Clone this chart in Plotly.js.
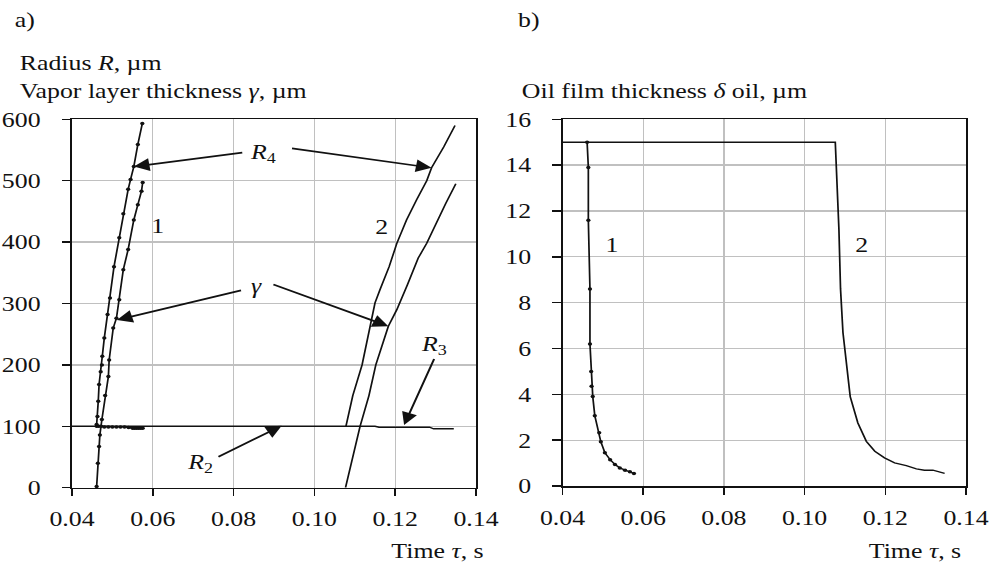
<!DOCTYPE html>
<html>
<head>
<meta charset="utf-8">
<script src="https://cdn.plot.ly/plotly-3.0.1.min.js"></script>
<style>
  html, body { margin: 0; padding: 0; background: #fff; overflow: hidden; }
  #frame { width: 998px; height: 564px; overflow: hidden; }
  /* the figure is set in a wide serif face: draw narrower, then widen */
  #chart { width: 811px; height: 564px; transform-origin: 0 0; transform: scaleX(1.2306); }
</style>
</head>
<body>
<div id="frame"><div id="chart"></div></div>
<script>
// ---- a) drop radius and vapor layer thickness, µm ----
// run 1 (dotted): outer radius R4
const t1R4 = [0.0461, 0.0463, 0.0465, 0.0467, 0.0471, 0.0474, 0.0475, 0.0480, 0.0488, 0.0494, 0.0504, 0.0517, 0.0527, 0.0539, 0.0545, 0.0553, 0.0563, 0.0574];
const r1R4 = [103, 116, 141, 168, 189, 200, 214, 244, 282, 309, 360, 407, 446, 486, 502, 523, 559, 593];
// run 1 (dotted): drop radius R2
const t1R2 = [0.0461, 0.0466, 0.0472, 0.0480, 0.0490, 0.0500, 0.0510, 0.0520, 0.0530, 0.0540, 0.0550, 0.0555, 0.0560, 0.0565, 0.0570, 0.0575];
const r1R2 = [100, 100, 100, 99, 99, 99, 99, 99, 99, 98, 97, 97, 97, 97, 97, 97];
// run 1 (dotted): vapor layer thickness γ
const t1G = [0.0461, 0.0464, 0.0467, 0.0469, 0.0474, 0.0482, 0.0490, 0.0492, 0.0502, 0.0510, 0.0517, 0.0527, 0.0539, 0.0553, 0.0563, 0.0572, 0.0575];
const g1 = [2, 40, 67, 86, 111, 150, 181, 208, 260, 276, 306, 355, 388, 436, 461, 483, 497];

// run 2: drop radius R2 / R3
const t2R = [0.04, 0.1078, 0.1150, 0.1160, 0.1285, 0.1295, 0.1345];
const r2R = [100, 100, 100, 98.5, 98.5, 96, 96];
// run 2: outer radius R4
const t2R4 = [0.1078, 0.1095, 0.1118, 0.1133, 0.1150, 0.1162, 0.1185, 0.1204, 0.1228, 0.1253, 0.1278, 0.1290, 0.1320, 0.1348];
const r2R4 = [100, 150, 200, 246, 301, 322, 360, 398, 436, 469, 500, 521, 555, 590];
// run 2: vapor layer thickness γ
const t2G = [0.1077, 0.1095, 0.1113, 0.1135, 0.1152, 0.1183, 0.1204, 0.1230, 0.1257, 0.1278, 0.1300, 0.1325, 0.1350];
const g2 = [0, 50, 100, 150, 200, 263, 290, 330, 374, 398, 430, 463, 495];

// ---- b) oil film thickness δ oil, µm ----
const t1D = [0.0461, 0.0464, 0.0464, 0.0468, 0.0468, 0.0471, 0.0472, 0.0475, 0.0480, 0.0491, 0.0495, 0.0505, 0.0518, 0.0530, 0.0542, 0.0555, 0.0567, 0.0577];
const d1 = [15.0, 13.9, 11.6, 8.6, 6.2, 5.0, 4.35, 3.9, 3.07, 2.32, 1.93, 1.45, 1.15, 0.94, 0.79, 0.69, 0.62, 0.55];
const t2D = [0.04, 0.1076, 0.1085, 0.1089, 0.1095, 0.1113, 0.1132, 0.1153, 0.1174, 0.1198, 0.1223, 0.1252, 0.1277, 0.1297, 0.1318, 0.1347];
const d2 = [15, 15, 11.2, 8.6, 6.7, 3.9, 2.75, 1.95, 1.52, 1.23, 1.01, 0.89, 0.75, 0.69, 0.69, 0.55];

// axis ticks
const timeTicks = [0.04, 0.06, 0.08, 0.10, 0.12, 0.14];
const timeLabels = ['0.04', '0.06', '0.08', '0.10', '0.12', '0.14'];
const radTicks = [0, 100, 200, 300, 400, 500, 600];
const oilTicks = [0, 2, 4, 6, 8, 10, 12, 14, 16];

const FONT = 'Liberation Serif, Times New Roman, serif';
const FS = 21;
const INK = '#111';
const GRID = '#c0c0c0';

function curve(x, y, xa, ya, dotted) {
  return {
    x: x, y: y, xaxis: xa, yaxis: ya, type: 'scatter',
    mode: dotted ? 'lines+markers' : 'lines',
    line: {color: INK, width: 1.4},
    marker: {color: INK, size: 3.5},
    hoverinfo: 'skip', showlegend: false, cliponaxis: false
  };
}

const data = [
  curve(t2R, r2R, 'x', 'y', false),
  curve(t2R4, r2R4, 'x', 'y', false),
  curve(t2G, g2, 'x', 'y', false),
  curve(t1R2, r1R2, 'x', 'y', true),
  curve(t1R4, r1R4, 'x', 'y', true),
  curve(t1G, g1, 'x', 'y', true),
  curve(t2D, d2, 'x2', 'y2', false),
  curve(t1D, d1, 'x2', 'y2', true)
];

// final picture size (paper fractions are the same before and after widening)
const W = 998, H = 564, WP = 811;
const px = v => v / W;
const py = v => 1 - v / H;

function timeAxis(domain, anchor) {
  return {
    domain: domain, anchor: anchor, range: [0.04, 0.14],
    tickvals: timeTicks, ticktext: timeLabels,
    ticks: 'outside', ticklen: 7, tickwidth: 1.3, tickcolor: INK,
    showline: true, linecolor: INK, linewidth: 1.5, mirror: true,
    showgrid: true, gridcolor: GRID, gridwidth: 1.1,
    zeroline: false, ticklabelstandoff: 5,
    tickfont: {family: FONT, size: FS, color: INK}
  };
}
function valueAxis(domain, anchor, range, ticks) {
  return {
    domain: domain, anchor: anchor, range: range,
    tickvals: ticks,
    ticks: 'outside', ticklen: 7, tickwidth: 1.5, tickcolor: INK,
    showline: true, linecolor: INK, linewidth: 1.3, mirror: true,
    showgrid: true, gridcolor: GRID, gridwidth: 1.3,
    zeroline: false, ticklabelstandoff: 13,
    tickfont: {family: FONT, size: FS, color: INK}
  };
}
// inner half of the crossing tick marks on the time axes
function innerTicks(overlay, anchor, domain) {
  return {
    overlaying: overlay, anchor: anchor, domain: domain, range: [0.04, 0.14],
    tickvals: timeTicks, ticks: 'inside', ticklen: 6, tickwidth: 1.3, tickcolor: INK,
    showticklabels: false, showgrid: false, showline: false, zeroline: false
  };
}

const xdomA = [px(72), px(476)];
const xdomB = [px(562.5), px(966)];
const ydomA = [py(487.7), py(119.3)];
const ydomB = [py(486), py(119.3)];

function label(text, x, y, xanchor) {
  return {
    text: text, xref: 'paper', yref: 'paper', x: px(x), y: py(y),
    xanchor: xanchor || 'left', yanchor: 'middle', showarrow: false,
    font: {family: FONT, size: FS, color: INK}
  };
}
function inPlot(text, x, y, xr, yr) {
  return {
    text: text, xref: xr, yref: yr, x: x, y: y, showarrow: false,
    xanchor: 'center', yanchor: 'middle',
    font: {family: FONT, size: FS, color: INK}
  };
}
function arrow(tipX, tipY, tailX, tailY) {
  return {
    text: '', xref: 'x', yref: 'y', axref: 'x', ayref: 'y',
    x: tipX, y: tipY, ax: tailX, ay: tailY,
    showarrow: true, arrowhead: 2, arrowsize: 1.5, arrowwidth: 1.7, arrowcolor: INK,
    standoff: 0, startstandoff: 0
  };
}

const annotations = [
  label('a)', 12, 20),
  label('b)', 515, 20),
  label('Radius <i>R</i>, µm', 17, 63),
  label('Vapor layer thickness <i>γ</i>, µm', 17, 91),
  label('Oil film thickness <i>δ</i> oil, µm', 519, 91),
  label('Time <i>τ</i>, s', 486, 551, 'right'),
  label('Time <i>τ</i>, s', 964, 551, 'right'),

  inPlot('<i>R</i><sub>4</sub>', 0.0873, 545, 'x', 'y'),
  arrow(0.0553, 523, 0.0826, 546),
  arrow(0.1290, 521, 0.0940, 553),
  inPlot('<i>γ</i>', 0.0857, 328, 'x', 'y'),
  arrow(0.0511, 273, 0.0823, 322),
  arrow(0.1183, 263, 0.0894, 332),
  inPlot('<i>R</i><sub>3</sub>', 0.1296, 232, 'x', 'y'),
  arrow(0.1222, 102, 0.1298, 212),
  inPlot('<i>R</i><sub>2</sub>', 0.0717, 41, 'x', 'y'),
  arrow(0.0919, 101, 0.0758, 49),
  inPlot('1', 0.0613, 427, 'x', 'y'),
  inPlot('2', 0.1167, 425, 'x', 'y'),

  inPlot('1', 0.0524, 10.5, 'x2', 'y2'),
  inPlot('2', 0.1141, 10.5, 'x2', 'y2')
];

const layout = {
  width: WP, height: H,
  margin: {l: 0, r: 0, t: 0, b: 0, pad: 0},
  paper_bgcolor: '#fff', plot_bgcolor: '#fff',
  font: {family: FONT, size: FS, color: INK},
  showlegend: false,
  xaxis: timeAxis(xdomA, 'y'),
  yaxis: valueAxis(ydomA, 'x', [0, 600], radTicks),
  xaxis2: timeAxis(xdomB, 'y2'),
  yaxis2: valueAxis(ydomB, 'x2', [0, 16], oilTicks),
  xaxis3: innerTicks('x', 'y', xdomA),
  xaxis4: innerTicks('x2', 'y2', xdomB),
  annotations: annotations
};

Plotly.newPlot('chart', data, layout, {staticPlot: true, displayModeBar: false});
</script>
</body>
</html>
